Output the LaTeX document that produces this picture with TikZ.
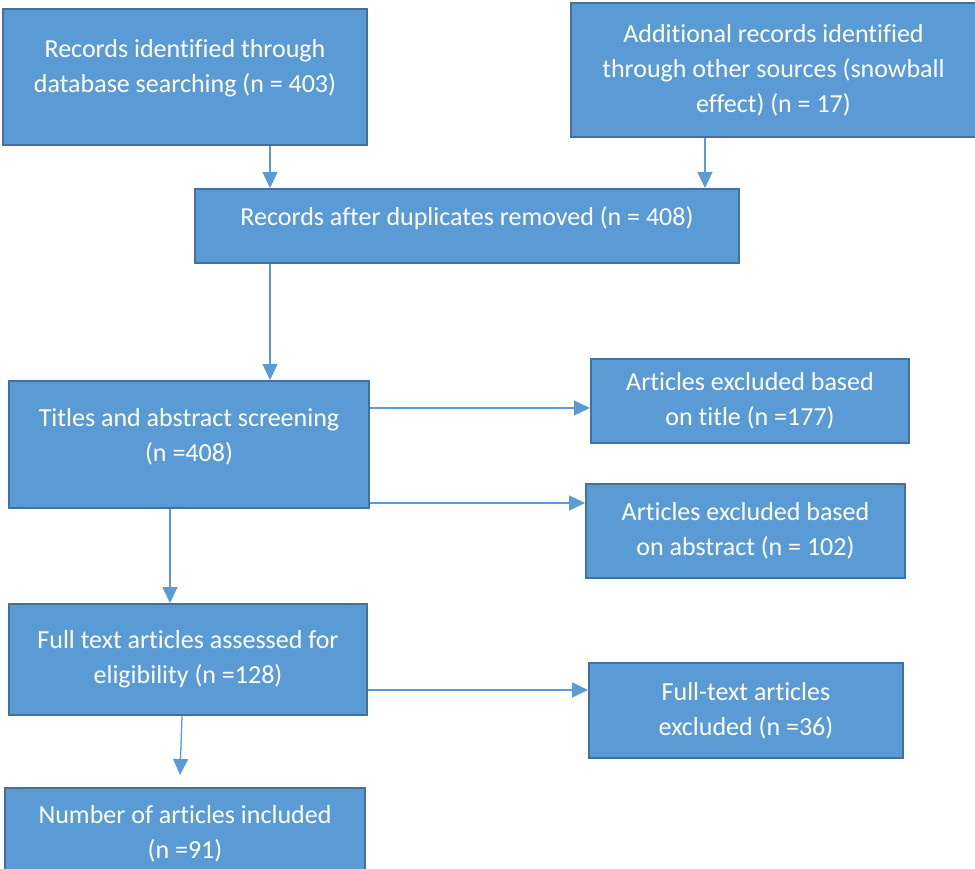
\documentclass[tikz,border=0pt]{standalone}
\usepackage{fontspec}
\setmainfont{Carlito}[Ligatures=CommonOff]
\usetikzlibrary{arrows.meta,positioning}
\definecolor{boxfill}{HTML}{5B9BD5}
\definecolor{boxline}{HTML}{41719C}
\tikzset{
    box/.style={draw=boxline, line width=2pt, fill=boxfill, text=white, align=center,
        font=\fontsize{26}{35}\selectfont, inner sep=0pt, anchor=north west}, % blue boxes
    arr/.style={draw=boxfill, line width=1.3pt, -{Triangle[length=16pt,width=15pt]}}, % connectors
    up/.style={text depth=#1}, % lifts the text a little inside its box
}

\begin{document}
\begin{tikzpicture}[x=1pt, y=-1pt]
    \useasboundingbox (0,0) rectangle (975,868);
    \clip (0,0) rectangle (975,868);

    \node[box, minimum width=364pt, minimum height=136pt, up=22pt] (db) at (2,8)
        {Records identified through\\database searching (n = 403)};
    \node[box, minimum width=405pt, minimum height=134pt] (other) at (570,2)
        {Additional records identified\\through other sources (snowball\\effect) (n = 17)};
    \node[box, minimum width=544pt, minimum height=74pt, up=20pt] (dup) at (194,188)
        {Records after duplicates removed (n = 408)};
    \node[box, minimum width=360pt, minimum height=127pt, up=20pt] (screen) at (8,380)
        {Titles and abstract screening\\(n =408)};
    \node[box, minimum width=318pt, minimum height=84pt] (title) at (590,358)
        {Articles excluded based\\on title (n =177)};
    \node[box, minimum width=319pt, minimum height=94pt] (abstract) at (585,483)
        {Articles excluded based\\on abstract (n = 102)};
    \node[box, minimum width=358pt, minimum height=111pt] (full) at (8,603)
        {Full text articles assessed for\\eligibility (n =128)};
    \node[box, minimum width=314pt, minimum height=95pt] (fullex) at (588,662)
        {Full-text articles\\excluded (n =36)};
    \node[box, minimum width=360pt, minimum height=92pt] (incl) at (4,787)
        {Number of articles included\\(n =91)};

    % x positions of the vertical connectors
    \coordinate (c1) at (270,0);
    \coordinate (c2) at (705,0);
    \coordinate (c3) at (170,0);
    \coordinate (c4) at (182,0);
    \coordinate (c5) at (180,0);
    % y positions of the horizontal connectors
    \coordinate (r1) at (0,408);
    \coordinate (r2) at (0,503);
    \coordinate (r3) at (0,690);
    \coordinate (r4) at (0,775);

    \draw[arr] (db.south -| c1) -- (dup.north -| c1);
    \draw[arr] (other.south -| c2) -- (dup.north -| c2);
    \draw[arr] (dup.south -| c1) -- (screen.north -| c1);
    \draw[arr] (screen.east |- r1) -- (title.west |- r1);
    \draw[arr] (screen.east |- r2) -- (abstract.west |- r2);
    \draw[arr] (screen.south -| c3) -- (full.north -| c3);
    \draw[arr] (full.east |- r3) -- (fullex.west |- r3);
    \draw[arr] (full.south -| c4) -- (r4 -| c5);
\end{tikzpicture}
\end{document}
